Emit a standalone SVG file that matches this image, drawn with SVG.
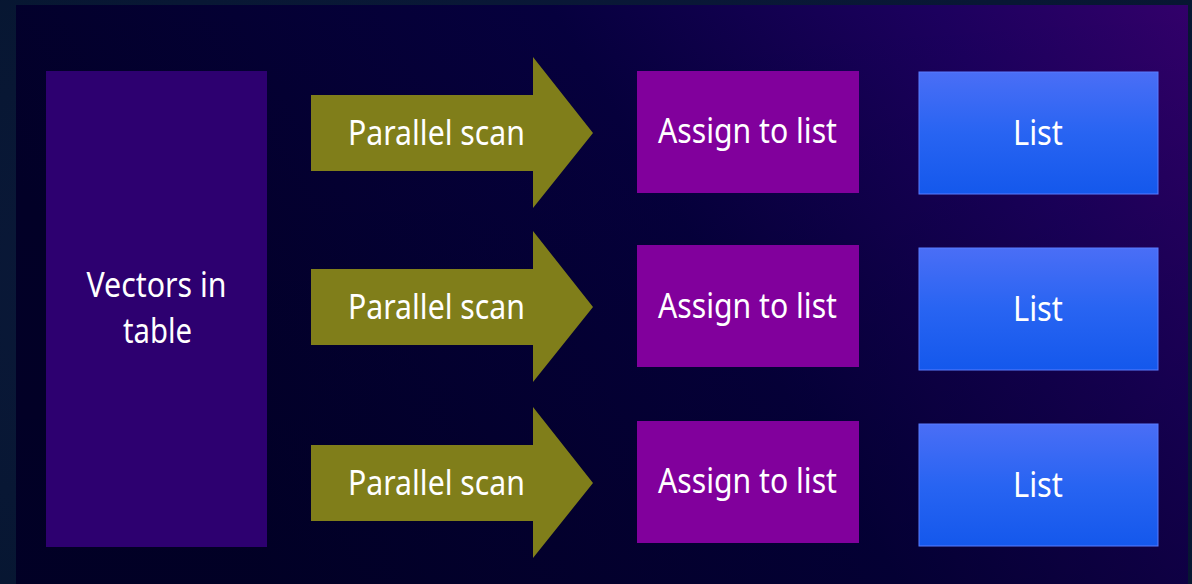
<svg xmlns="http://www.w3.org/2000/svg" width="1192" height="584" viewBox="0 0 1192 584">
  <defs>
    <linearGradient id="bg" x1="0" y1="0.3" x2="1" y2="0">
      <stop offset="0" stop-color="#020028"/>
      <stop offset="0.5" stop-color="#06003e"/>
      <stop offset="0.8" stop-color="#1c005e"/>
      <stop offset="1" stop-color="#32006a"/>
    </linearGradient>
    <linearGradient id="bg2" x1="0" y1="0" x2="0" y2="1">
      <stop offset="0" stop-color="#000020" stop-opacity="0"/>
      <stop offset="1" stop-color="#000020" stop-opacity="0.35"/>
    </linearGradient>
    <linearGradient id="listg" x1="0" y1="0" x2="0" y2="1">
      <stop offset="0" stop-color="#4a6ef6"/>
      <stop offset="0.5" stop-color="#2864f2"/>
      <stop offset="1" stop-color="#1458ec"/>
    </linearGradient>
    <radialGradient id="outer" cx="0.5" cy="0.5" r="0.8">
      <stop offset="0" stop-color="#0e1a40"/>
      <stop offset="1" stop-color="#061630"/>
    </radialGradient>
  </defs>
  <style>
    .t { font-family: "Noto Sans", "Open Sans", "DejaVu Sans", sans-serif; font-size: 35px; fill: #ffffff; text-anchor: middle; }
    .vec { fill: #2d0070; }
    .arrow { fill: #807e1a; }
    .assign { fill: #81009c; }
    .list { fill: url(#listg); stroke: #5a7cff; stroke-width: 1; }
  </style>
  <rect x="0" y="0" width="1192" height="584" fill="url(#outer)"/>
  <rect x="16" y="5" width="1172" height="579" fill="url(#bg)"/>
  <rect x="16" y="5" width="1172" height="579" fill="url(#bg2)"/>

  <g id="vectors">
    <rect class="vec" x="46" y="71" width="221" height="476"/>
    <text class="t" x="156.5" y="297" textLength="140" lengthAdjust="spacingAndGlyphs">Vectors in</text>
    <text class="t" x="157.5" y="343" textLength="69" lengthAdjust="spacingAndGlyphs">table</text>
  </g>

  <g id="connectors">
    <g id="scan1">
      <polygon class="arrow" points="311,95 533,95 533,57 593,133 533,208 533,171 311,171"/>
      <text class="t" x="436.5" y="145" textLength="177" lengthAdjust="spacingAndGlyphs">Parallel scan</text>
    </g>
    <g id="scan2">
      <polygon class="arrow" points="311,269 533,269 533,231 593,307 533,382 533,345 311,345"/>
      <text class="t" x="436.5" y="319" textLength="177" lengthAdjust="spacingAndGlyphs">Parallel scan</text>
    </g>
    <g id="scan3">
      <polygon class="arrow" points="311,445 533,445 533,407 593,483 533,558 533,521 311,521"/>
      <text class="t" x="436.5" y="495" textLength="177" lengthAdjust="spacingAndGlyphs">Parallel scan</text>
    </g>
  </g>

  <g id="assign1">
    <rect class="assign" x="637" y="71" width="222" height="122"/>
    <text class="t" x="747.5" y="143" textLength="179" lengthAdjust="spacingAndGlyphs">Assign to list</text>
  </g>
  <g id="assign2">
    <rect class="assign" x="637" y="245" width="222" height="122"/>
    <text class="t" x="747.5" y="318" textLength="179" lengthAdjust="spacingAndGlyphs">Assign to list</text>
  </g>
  <g id="assign3">
    <rect class="assign" x="637" y="421" width="222" height="122"/>
    <text class="t" x="747.5" y="493" textLength="179" lengthAdjust="spacingAndGlyphs">Assign to list</text>
  </g>

  <g id="list1">
    <rect class="list" x="919" y="72" width="239" height="122"/>
    <text class="t" x="1038" y="145" textLength="50" lengthAdjust="spacingAndGlyphs">List</text>
  </g>
  <g id="list2">
    <rect class="list" x="919" y="248" width="239" height="122"/>
    <text class="t" x="1038" y="321" textLength="50" lengthAdjust="spacingAndGlyphs">List</text>
  </g>
  <g id="list3">
    <rect class="list" x="919" y="424" width="239" height="122"/>
    <text class="t" x="1038" y="497" textLength="50" lengthAdjust="spacingAndGlyphs">List</text>
  </g>
</svg>
